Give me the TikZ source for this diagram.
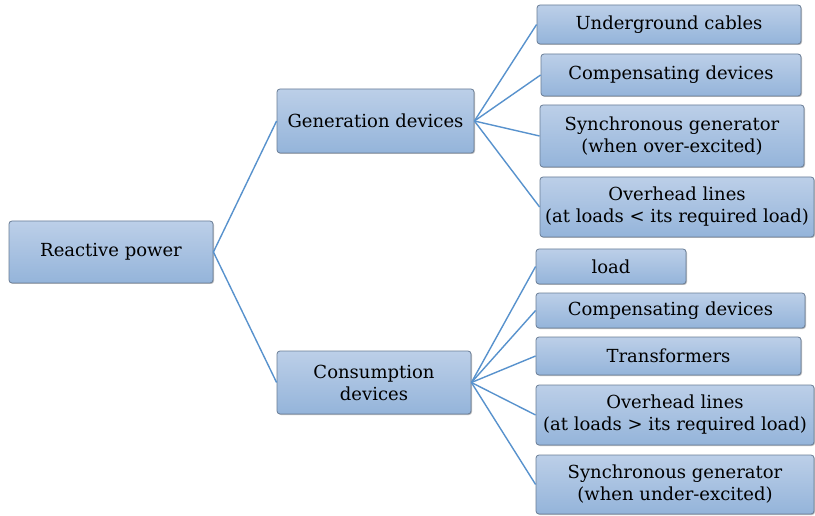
\documentclass[tikz,border=0pt]{standalone}
\usepackage{fontspec}
\setmainfont{DejaVu Serif}
\usetikzlibrary{shadows}
\definecolor{boxtop}{RGB}{188,207,232}
\definecolor{boxbot}{RGB}{148,180,218}
\definecolor{boxline}{RGB}{105,125,150}
\definecolor{conn}{RGB}{88,146,205}
\tikzset{
  box/.style={rectangle, rounded corners=3pt, draw=boxline, line width=0.8pt,
    top color=boxtop, bottom color=boxbot, align=center, inner sep=0pt,
    font=\fontsize{18}{22}\selectfont,
    drop shadow={shadow xshift=1pt, shadow yshift=-1pt, opacity=0.25, fill=black}},
  conline/.style={draw=conn, line width=1.4pt}
}
\begin{document}
\begin{tikzpicture}[x=1pt,y=-1pt]
\useasboundingbox (0,0) rectangle (815,516);
\fill[white] (0,0) rectangle (815,516);
\node[box, minimum width=204pt, minimum height=62pt] (rp) at (111,252) {Reactive power};
\node[box, minimum width=197pt, minimum height=64pt] (gen) at (375.5,121) {Generation devices};
\node[box, minimum width=194pt, minimum height=63pt] (con) at (374,382.5) {Consumption\\devices};
\node[box, minimum width=264pt, minimum height=39pt] (g1) at (669,24.5) {Underground cables};
\node[box, minimum width=260pt, minimum height=42pt] (g2) at (671,75) {Compensating devices};
\node[box, minimum width=264pt, minimum height=62pt] (g3) at (672,136) {Synchronous generator\\(when over-excited)};
\node[box, minimum width=274pt, minimum height=60pt] (g4) at (677,207) {Overhead lines\\(at loads < its required load)};
\node[box, minimum width=150pt, minimum height=35pt] (c1) at (611,266.5) {load};
\node[box, minimum width=269pt, minimum height=35pt] (c2) at (670.5,310.5) {Compensating devices};
\node[box, minimum width=265pt, minimum height=38pt] (c3) at (668.5,356) {Transformers};
\node[box, minimum width=278pt, minimum height=60pt] (c4) at (675,415) {Overhead lines\\(at loads > its required load)};
\node[box, minimum width=278pt, minimum height=59pt] (c5) at (675,484.5) {Synchronous generator\\(when under-excited)};
\draw[conline] (rp.east) -- (gen.west);
\draw[conline] (rp.east) -- (con.west);
\foreach \n in {g1,g2,g3,g4} \draw[conline] (gen.east) -- (\n.west);
\foreach \n in {c1,c2,c3,c4,c5} \draw[conline] (con.east) -- (\n.west);
\end{tikzpicture}
\end{document}
